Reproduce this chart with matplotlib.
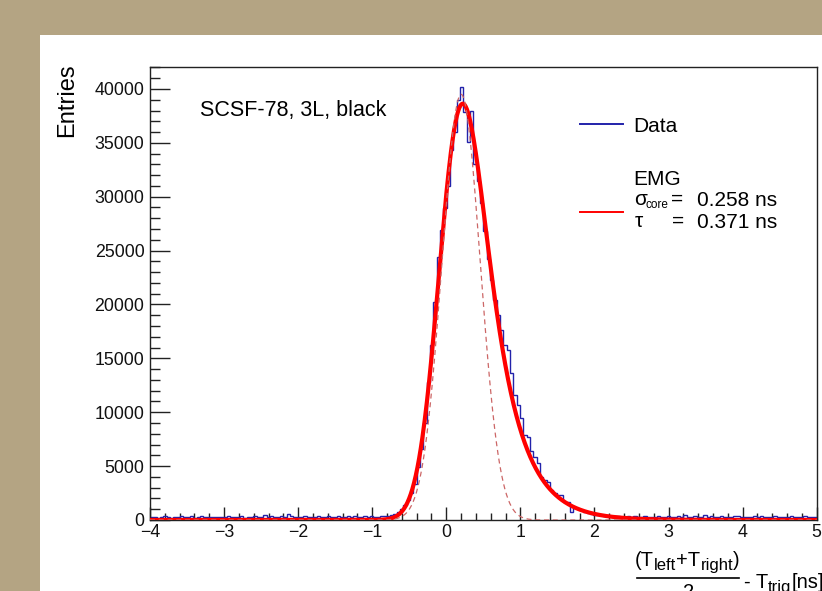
import math
import numpy as np
import matplotlib
matplotlib.use("Agg")
import matplotlib.pyplot as plt
from matplotlib.patches import Rectangle
from matplotlib.lines import Line2D
from matplotlib.ticker import MultipleLocator

plt.rcParams['font.family'] = ['Liberation Sans', 'DejaVu Sans']
plt.rcParams['axes.unicode_minus'] = True

# ---- histogram binning ----
x_min, x_max, n_bins = -4.0, 5.0, 200

# entries per bin, x from -4.0 to -0.805
counts_left = [260, 310, 230, 290, 340, 270, 210, 300, 280, 350,
               250, 290, 330, 220, 280, 360, 250, 310, 240, 270,
               320, 260, 290, 380, 240, 300, 270, 340, 230, 310,
               280, 350, 260, 300, 420, 270, 330, 290, 250, 380,
               300, 560, 350, 280, 320, 240, 370, 290, 310, 260,
               340, 300, 270, 390, 250, 320, 360, 280, 300, 330,
               290, 350, 310, 280, 340, 300, 360, 320, 290, 350,
               330]
# entries per bin, x from -0.805 to 2.345
counts_peak = [380, 420, 520, 700, 980, 1400, 1900, 2500, 3300, 4950,
               6600, 9000, 12800, 16200, 20260, 24440, 26900, 28950, 31000, 34340,
               36040, 38980, 40150, 37900, 35100, 38000, 33000, 31500, 29400, 26800,
               24200, 22300, 20400, 19000, 17600, 16240, 15800, 13640, 11600, 10670,
               9440, 7890, 7730, 6400, 5870, 5260, 4020, 3710, 3500, 2780,
               2500, 2320, 2280, 1700, 1650, 780, 1100, 1000, 930, 700,
               650, 560, 500, 470, 430, 400, 380, 360, 340, 330]
# entries per bin, x from 2.345 to 5.0
counts_right = [320, 300, 340, 280, 350, 300, 270, 330, 290, 310,
                260, 340, 300, 280, 330, 270, 310, 360, 290, 480,
                300, 260, 340, 290, 310, 420, 270, 330, 300, 280,
                350, 290, 310, 260, 340, 390, 280, 300, 320, 270,
                330, 290, 360, 250, 310, 300, 340, 280, 320, 290,
                300, 340, 270, 310, 290, 330, 260, 300, 280]

# ---- fit results ----
sigma_core = 0.258   # ns
tau = 0.371          # ns
emg_mu = 0.0
emg_norm = 36200.0
core_mean = 0.20
core_peak = 39500.0

counts = np.array(counts_left + counts_peak + counts_right, dtype=float)
edges = np.linspace(x_min, x_max, n_bins + 1)

erfc = np.vectorize(math.erfc)


def emg(x):
    lam = 1.0 / tau
    arg = (emg_mu + lam * sigma_core ** 2 - x) / (math.sqrt(2.0) * sigma_core)
    return emg_norm * lam / 2.0 * np.exp(lam / 2.0 * (2 * emg_mu + lam * sigma_core ** 2 - 2 * x)) * erfc(arg)


def core_gauss(x):
    return core_peak * np.exp(-0.5 * ((x - core_mean) / sigma_core) ** 2)


W, H = 822, 591
fig = plt.figure(figsize=(W / 100, H / 100), dpi=100)
fig.patch.set_facecolor('#b4a483')
fig.add_artist(Rectangle((40 / W, 0), 1 - 40 / W, 1 - 35 / H, transform=fig.transFigure,
                         facecolor='white', edgecolor='none', zorder=-5))

ax = fig.add_axes([150 / W, 71 / H, 666.7 / W, 452.6 / H])
ax.set_facecolor('white')

hist_color = '#2222aa'
ax.stairs(counts, edges, color=hist_color, lw=1.0, zorder=2)

xs = np.linspace(x_min, x_max, 1200)
ax.plot(xs, emg(xs), color='#ff0000', lw=3.0, zorder=3, solid_capstyle='round')
ax.plot(xs, core_gauss(xs), color='#cc6666', lw=0.9, ls=(0, (4, 3)), zorder=4)

ax.set_xlim(x_min, x_max)
ax.set_ylim(0, 42000)
ax.set_xticks(np.arange(-4, 6, 1))
ax.xaxis.set_minor_locator(MultipleLocator(0.2))
ax.set_yticks(np.arange(0, 40001, 5000))
ax.yaxis.set_minor_locator(MultipleLocator(1000))

ax.tick_params(which='both', direction='in', top=False, right=False, width=1.0, colors='#222222',
               labelsize=12.8, labelcolor='#111111')
ax.tick_params(axis='y', which='major', length=14.4, pad=4)
ax.tick_params(axis='y', which='minor', length=7.0)
ax.tick_params(axis='x', which='major', length=9.4, pad=3)
ax.tick_params(axis='x', which='minor', length=4.7)
for sp in ax.spines.values():
    sp.set_linewidth(1.0)
    sp.set_color('#222222')

# axis titles and annotation
fig.text(67 / W, 1 - 100 / H, 'Entries', rotation=90, fontsize=17, va='center', ha='center')
fig.text(200 / W, 1 - 116 / H, 'SCSF-78, 3L, black', fontsize=15.5, va='baseline', ha='left')

renderer = fig.canvas.get_renderer()


def put(x_px, base_px, s, size, ha='left'):
    t = fig.text(x_px / W, 1 - base_px / H, s, fontsize=size, va='baseline', ha=ha)
    bb = t.get_window_extent(renderer)
    return x_px + bb.width


# legend
ax.add_line(Line2D([0.645, 0.7095], [0.875, 0.875], transform=ax.transAxes, color=hist_color, lw=1.4))
ax.add_line(Line2D([0.645, 0.7095], [0.6795, 0.6795], transform=ax.transAxes, color='#ff0000', lw=1.4))
leg_fs = 15
put(633, 132, 'Data', leg_fs)
put(633, 185, 'EMG', leg_fs)
put(634, 205, 'σ', leg_fs)
put(645, 208, 'core', 8.5)
put(671, 205, '=', leg_fs)
put(697, 206, '0.258 ns', leg_fs)
put(635, 227, 'τ', leg_fs)
put(672, 227, '=', leg_fs)
put(697, 228, '0.371 ns', leg_fs)

# x-axis title: (T_left + T_right)/2 - T_trig [ns]
main_fs, sub_fs = 14.5, 12
xp = put(635, 566, '(T', main_fs)
xp = put(xp, 570, 'left', sub_fs)
xp = put(xp, 566, '+T', main_fs)
xp = put(xp, 570, 'right', sub_fs)
xp = put(xp, 566, ')', main_fs)
fig.add_artist(Line2D([637 / W, (xp - 1) / W], [1 - 578 / H, 1 - 578 / H], transform=fig.transFigure,
                      color='black', lw=1.2))
put((637 + xp) / 2, 598, '2', main_fs, ha='center')
xp2 = put(xp + 4, 588, '- T', main_fs)
xp2 = put(xp2, 592, 'trig', sub_fs)
put(xp2, 588, '[ns]', main_fs)

fig.savefig('out.png', dpi=100)
